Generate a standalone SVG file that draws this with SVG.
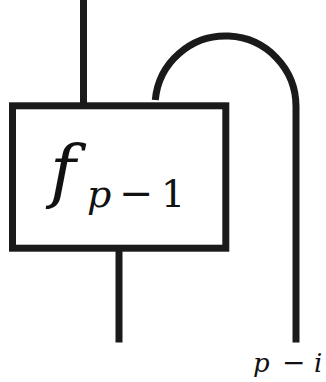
<svg xmlns="http://www.w3.org/2000/svg" width="326" height="382" viewBox="0 0 326 382">
<style>
.w{fill:none;stroke:#1a1a1a;stroke-width:7}
.t{fill:#111;font-family:"DejaVu Serif",serif;font-style:italic}
.m{fill:#111;font-family:"DejaVu Serif",serif}
.r{fill:#111;font-family:"DejaVu Serif",serif}
</style>
<rect width="326" height="382" fill="#fff"/>
<g id="connectors">
<line class="w" x1="83.5" y1="0" x2="83.5" y2="103"/>
<line class="w" x1="119" y1="251" x2="119" y2="342.5"/>
<path class="w" d="M155.3,100 A70.5,70.5 0 0 1 296,106.5 L296,342.5"/>
</g>
<g id="node-f">
<rect class="w" x="12.5" y="105.8" width="213.3" height="142.4"/>
<text class="t" x="50" y="195" font-size="70">f</text>
<text class="t" x="87" y="207" font-size="38">p</text>
<text class="m" x="119" y="207" font-size="41">−</text>
<text class="r" x="161" y="207" font-size="38">1</text>
</g>
<g id="label">
<text class="t" x="253" y="372" font-size="26">p</text>
<text class="m" x="282" y="372" font-size="28">−</text>
<text class="t" x="314" y="372" font-size="26">i</text>
</g>
</svg>
